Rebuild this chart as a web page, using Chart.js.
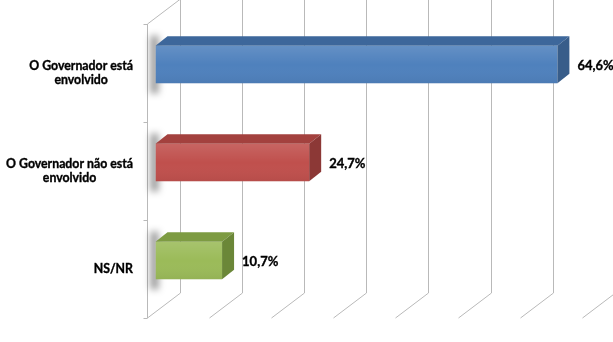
<!DOCTYPE html>
<html>
<head>
<meta charset="utf-8">
<script src="https://cdn.jsdelivr.net/npm/chart.js@4"></script>
<style>
  html, body { margin: 0; padding: 0; background: #fff; }
  canvas { display: block; }
</style>
</head>
<body>
<canvas id="chart" width="613" height="342"></canvas>
<script>
// categories (multi-line), values in %
const categories = [
  ["O Governador está", "envolvido"],
  ["O Governador não está", "envolvido"],
  ["NS/NR"],
];
const values = [64.6, 24.7, 10.7];
const xTicks = [0, 10, 20, 30, 40, 50, 60, 70];

// colours per bar: front, top, side
const frontColors = ["#4f81bd", "#c0504d", "#9bbb59"];
const topColors = ["#3d679b", "#a3413e", "#7d9b42"];
const sideColors = ["#385d8a", "#8c3836", "#6b8738"];

const LABEL_FONT = "bold 12.3px Lato";
const VALUE_FONT = "bold 13px Lato";
const front = { dx: -8.5, dy: 8.5 }; // front edge of the box vs bar face
const back = { dx: 24.5, dy: -16.5 }; // back wall vs bar face
const depth = { dx: 12, dy: -9.5 }; // bar depth

const box3d = {
  id: "box3d",
  beforeDatasetsDraw(chart) {
    const { ctx, chartArea: ca } = chart;
    const xs = chart.scales.x;
    ctx.save();
    ctx.strokeStyle = "#b9b9b9";
    ctx.lineWidth = 1;
    // back wall gridlines + floor diagonals
    for (const v of xTicks) {
      const px = Math.round(xs.getPixelForValue(v));
      const bx = px + back.dx;
      const fx = px + front.dx;
      ctx.beginPath();
      ctx.moveTo(bx, -2);
      ctx.lineTo(bx, ca.bottom + back.dy);
      ctx.lineTo(fx, ca.bottom + front.dy);
      ctx.stroke();
    }
    // left wall front edge
    const x0 = Math.round(xs.getPixelForValue(0)) + front.dx;
    ctx.beginPath();
    ctx.moveTo(Math.round(xs.getPixelForValue(0)) + back.dx, ca.top + back.dy);
    ctx.lineTo(x0, ca.top + front.dy);
    ctx.lineTo(x0, ca.bottom + front.dy);
    ctx.stroke();
    // category ticks
    const band = (ca.bottom - ca.top) / categories.length;
    for (let i = 0; i <= categories.length; i++) {
      const y = Math.round(ca.top + i * band + front.dy) + 0.5;
      ctx.beginPath();
      ctx.moveTo(x0 - 4, y);
      ctx.lineTo(x0, y);
      ctx.stroke();
    }
    // soft shadows left of each bar
    const meta = chart.getDatasetMeta(0);
    ctx.filter = "blur(3.5px)";
    ctx.fillStyle = "rgba(0,0,0,0.4)";
    for (const el of meta.data) {
      const t = el.y - el.height / 2;
      ctx.fillRect(el.base - 5, t - 10, 8, el.height + 20);
    }
    ctx.filter = "none";
    ctx.restore();
  },
  afterDatasetsDraw(chart) {
    const { ctx } = chart;
    const meta = chart.getDatasetMeta(0);
    ctx.save();
    meta.data.forEach((el, i) => {
      const L = el.base, R = el.x;
      const T = el.y - el.height / 2, B = el.y + el.height / 2;
      // top face
      ctx.fillStyle = topColors[i];
      ctx.beginPath();
      ctx.moveTo(L, T);
      ctx.lineTo(L + depth.dx, T + depth.dy);
      ctx.lineTo(R + depth.dx, T + depth.dy);
      ctx.lineTo(R, T);
      ctx.closePath();
      ctx.fill();
      // side face
      ctx.fillStyle = sideColors[i];
      ctx.beginPath();
      ctx.moveTo(R, T);
      ctx.lineTo(R + depth.dx, T + depth.dy);
      ctx.lineTo(R + depth.dx, B + depth.dy);
      ctx.lineTo(R, B);
      ctx.closePath();
      ctx.fill();
      // soft highlight on front face
      const g = ctx.createLinearGradient(0, T, 0, B);
      g.addColorStop(0, "rgba(255,255,255,0.12)");
      g.addColorStop(0.5, "rgba(255,255,255,0)");
      g.addColorStop(1, "rgba(0,0,0,0.05)");
      ctx.fillStyle = g;
      ctx.fillRect(L, T, R - L, B - T);
    });
    ctx.restore();
  },
  afterDraw(chart) {
    const { ctx } = chart;
    const meta = chart.getDatasetMeta(0);
    const ys = chart.scales.y;
    ctx.save();
    ctx.fillStyle = "#000";
    ctx.strokeStyle = "#000";
    ctx.lineWidth = 0.35;
    ctx.textBaseline = "middle";
    // value labels
    ctx.font = VALUE_FONT;
    ctx.textAlign = "left";
    meta.data.forEach((el, i) => {
      const txt = values[i].toFixed(1).replace(".", ",") + "%";
      const x = el.x + depth.dx + 8, y = el.y + 1;
      ctx.fillText(txt, x, y);
      ctx.strokeText(txt, x, y);
    });
    // category labels: block right-aligned, lines centred in block
    ctx.font = LABEL_FONT;
    const rightEdge = 133;
    const lineH = 14;
    categories.forEach((lines, i) => {
      const w = Math.max(...lines.map((s) => ctx.measureText(s).width));
      const cx = rightEdge - w / 2;
      const cy = ys.getPixelForValue(i) + front.dy;
      ctx.textAlign = "center";
      lines.forEach((s, j) => {
        const y = cy + (j - (lines.length - 1) / 2) * lineH;
        ctx.fillText(s, cx, y);
        ctx.strokeText(s, cx, y);
      });
    });
    ctx.restore();
  },
};

const ctx = document.getElementById("chart").getContext("2d");
const chart = new Chart(ctx, {
  type: "bar",
  data: {
    labels: categories,
    datasets: [
      {
        data: values,
        backgroundColor: frontColors,
        borderWidth: 0,
        categoryPercentage: 1,
        barPercentage: 0.385,
      },
    ],
  },
  options: {
    indexAxis: "y",
    responsive: false,
    animation: false,
    devicePixelRatio: 1,
    layout: { padding: { left: 155.5, right: 22, top: 15.5, bottom: 32.5 } },
    plugins: { legend: { display: false }, tooltip: { enabled: false } },
    scales: {
      x: { display: false, min: 0, max: 70 },
      y: { display: false },
    },
  },
  plugins: [box3d],
});
</script>
</body>
</html>
